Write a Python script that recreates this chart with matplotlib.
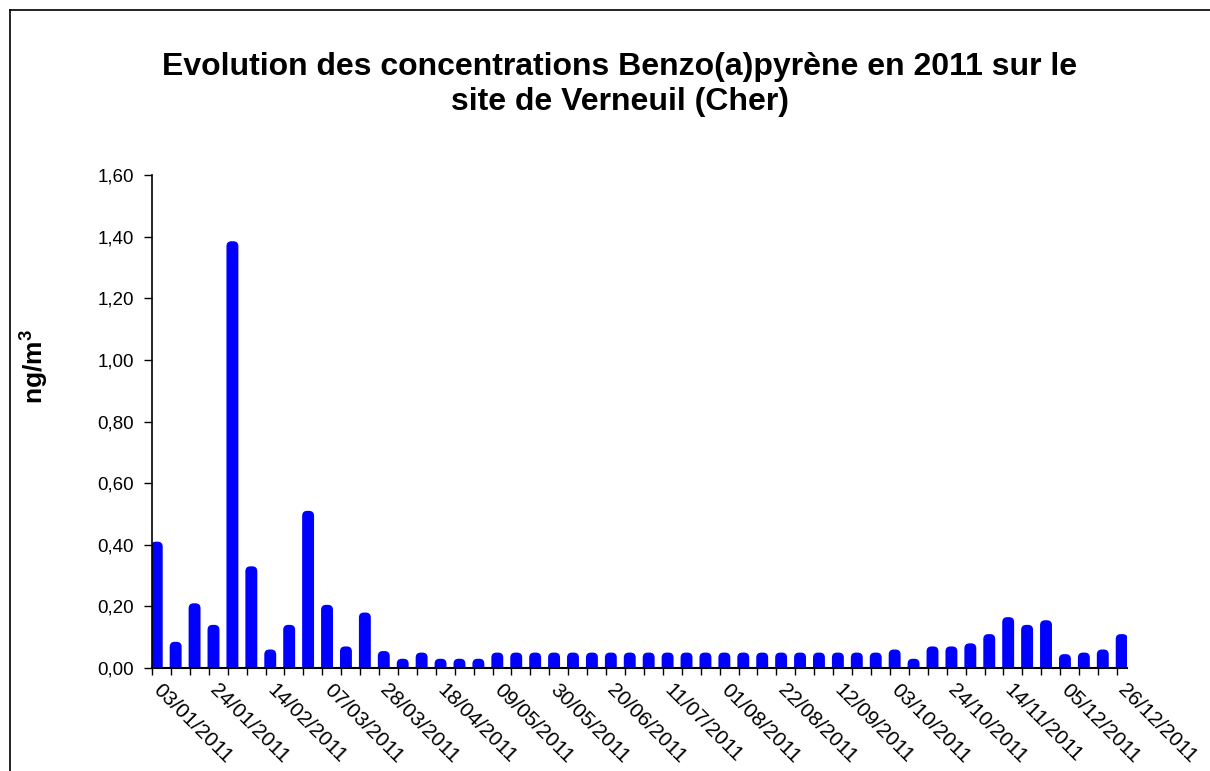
import numpy as np
import matplotlib
matplotlib.use('Agg')
import matplotlib.pyplot as plt
from matplotlib.lines import Line2D
from matplotlib.patches import FancyBboxPatch
from matplotlib.transforms import ScaledTranslation

plt.rcParams['font.family'] = ['Liberation Sans', 'DejaVu Sans']
plt.rcParams['mathtext.fontset'] = 'custom'
plt.rcParams['mathtext.bf'] = 'Liberation Sans:bold'
plt.rcParams['mathtext.rm'] = 'Liberation Sans'

# hebdomadaire, 52 semaines (lundi de chaque semaine)
dates = ['03/01/2011', '10/01/2011', '17/01/2011', '24/01/2011', '31/01/2011', '07/02/2011',
         '14/02/2011', '21/02/2011', '28/02/2011', '07/03/2011', '14/03/2011', '21/03/2011',
         '28/03/2011', '04/04/2011', '11/04/2011', '18/04/2011', '25/04/2011', '02/05/2011',
         '09/05/2011', '16/05/2011', '23/05/2011', '30/05/2011', '06/06/2011', '13/06/2011',
         '20/06/2011', '27/06/2011', '04/07/2011', '11/07/2011', '18/07/2011', '25/07/2011',
         '01/08/2011', '08/08/2011', '15/08/2011', '22/08/2011', '29/08/2011', '05/09/2011',
         '12/09/2011', '19/09/2011', '26/09/2011', '03/10/2011', '10/10/2011', '17/10/2011',
         '24/10/2011', '31/10/2011', '07/11/2011', '14/11/2011', '21/11/2011', '28/11/2011',
         '05/12/2011', '12/12/2011', '19/12/2011', '26/12/2011']

bap = [0.41, 0.085, 0.21, 0.14, 1.385, 0.33, 0.06, 0.14, 0.51, 0.205,
       0.07, 0.18, 0.055, 0.03, 0.05, 0.03, 0.03, 0.03, 0.05, 0.05,
       0.05, 0.05, 0.05, 0.05, 0.05, 0.05, 0.05, 0.05, 0.05, 0.05,
       0.05, 0.05, 0.05, 0.05, 0.05, 0.05, 0.05, 0.05, 0.05, 0.06,
       0.03, 0.07, 0.07, 0.08, 0.11, 0.165, 0.14, 0.155, 0.045, 0.05,
       0.06, 0.11]

yticks = [0.0, 0.2, 0.4, 0.6, 0.8, 1.0, 1.2, 1.4, 1.6]

W, H = 1210, 771
fig = plt.figure(figsize=(W / 100, H / 100), dpi=100)
ax = fig.add_axes([152 / W, 1 - 668 / H, (1127 - 152) / W, (668 - 175) / H])

x = np.arange(len(bap))
ax.set_xlim(-0.25, len(bap) - 0.72)
ax.set_ylim(0, 1.6)

bars = ax.bar(x, bap, width=0.63, color='#0000FF', edgecolor='none', zorder=2)

# barres à coins arrondis (style Excel)
fig.canvas.draw()
bb = ax.get_window_extent()
x_per_px = (ax.get_xlim()[1] - ax.get_xlim()[0]) / bb.width
y_per_px = (ax.get_ylim()[1] - ax.get_ylim()[0]) / bb.height
r = 5 * x_per_px
low = -6 * y_per_px
for rect in bars:
    rect.set_visible(False)
    fb = FancyBboxPatch((rect.get_x(), low), rect.get_width(), rect.get_height() - low,
                        boxstyle=f'round,pad=0,rounding_size={r}',
                        mutation_aspect=y_per_px / x_per_px,
                        facecolor='#0000FF', edgecolor='none', zorder=2)
    ax.add_patch(fb)

ax.set_yticks(yticks)
ax.set_yticklabels([f'{v:.2f}'.replace('.', ',') for v in yticks], fontsize=13.5)

# graduations à chaque semaine, étiquette toutes les 3 semaines
ax.set_xticks(x - 0.25)
ax.set_xticklabels([d if i % 3 == 0 else '' for i, d in enumerate(dates)],
                   fontsize=15, rotation=-45, ha='left', va='top',
                   rotation_mode='anchor')
ax.tick_params(axis='x', length=5, width=1, direction='out', color='black', pad=6)
ax.tick_params(axis='y', length=6, width=1, direction='out', color='black', pad=7)
for lab in ax.get_xticklabels():
    lab.set_transform(lab.get_transform() + ScaledTranslation(11 / 100, 3 / 100, fig.dpi_scale_trans))

for side in ['top', 'right']:
    ax.spines[side].set_visible(False)
ax.spines['left'].set_linewidth(1.2)
ax.spines['bottom'].set_linewidth(1.5)
ax.spines['bottom'].set_zorder(3)

ax.set_ylabel(r'$\mathbf{ng/m^{3}}$', fontsize=19)
ax.yaxis.set_label_coords((51 - 152) / (1127 - 152), (668 - 367) / (668 - 175))

fig.text(620 / W, 1 - 67 / H, 'Evolution des concentrations Benzo(a)pyrène en 2011 sur le',
         ha='center', va='center', fontsize=23, fontweight='bold')
fig.text(620 / W, 1 - 102 / H, 'site de Verneuil (Cher)',
         ha='center', va='center', fontsize=23, fontweight='bold')

# cadre du graphique
fig.add_artist(Line2D([10 / W, 10 / W], [0, 1 - 10 / H], transform=fig.transFigure,
                      color='black', linewidth=1.2))
fig.add_artist(Line2D([10 / W, 1], [1 - 10 / H, 1 - 10 / H], transform=fig.transFigure,
                      color='black', linewidth=1.2))

plt.savefig('out.png', dpi=100, facecolor='white')
